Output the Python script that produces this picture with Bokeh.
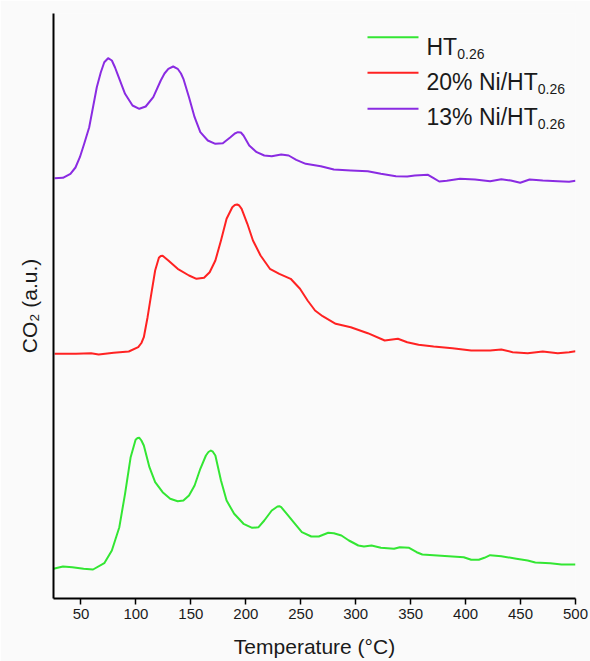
from bokeh.plotting import figure
from bokeh.models import Range1d, FixedTicker, Label, BoxAnnotation
from bokeh.embed import file_html
from bokeh.resources import INLINE

# ---- data ----
ht_T = [25, 33.6, 42.1, 52.4, 61, 71.2, 78.1, 84.9, 90.1, 95.2, 99.7, 101.5, 103.1, 105, 107.2,
        112.3, 117.5, 124.3, 131.2, 138, 143.2, 148.3, 153.4, 158.6, 163.7, 166, 168.2, 170,
        172.3, 177.4, 182.5, 189.4, 197.9, 205.8, 211.6, 216.8, 223.6, 228.8, 230.5, 232.2, 237.3,
        244.2, 251, 259.6, 266.4, 275, 280.1, 287, 293.8, 302.4, 307.5, 314.4, 322.9, 334.9, 340.1,
        348.6, 355.5, 360.6, 374.3, 388, 398.3, 405.1, 412, 417.1, 422.3, 432.5, 446.2, 456.5,
        463.4, 477.1, 487.3, 500]
ht_y = [29.7, 32, 31.3, 29.7, 29, 35.3, 48, 71.3, 104.7, 141.3, 158.7, 160.5, 160.7, 158, 153,
        131.3, 116.3, 106.3, 99.7, 97.3, 98, 103, 113, 129.7, 143, 146.5, 148, 146.8, 143, 118,
        98, 84.7, 74.7, 70.7, 71.3, 78, 88, 92, 92.3, 91.3, 84.7, 75.3, 66.3, 62, 62, 65.7, 65.3,
        63, 58, 53, 52, 53, 50.7, 49.7, 51.3, 50.7, 46.3, 44, 43, 42, 41.3, 38.7, 38.7, 40.7,
        43.3, 42.3, 39.7, 38, 36, 35.3, 34, 34]

ni20_T = [26, 45.5, 59.2, 66.1, 79.8, 93.5, 102.1, 105, 107.2, 110.6, 114, 117.5, 120.9, 122.6,
          124.3, 129.5, 138, 148.3, 155.1, 162, 167.1, 172.3, 177.4, 182.5, 187.7, 190, 192.1,
          194, 196.2, 201.4, 206.5, 213.4, 221.9, 230.5, 240.8, 249.3, 256.2, 263, 269.9, 281.8,
          295.5, 311, 326.4, 338.4, 346.9, 357.2, 370.9, 388, 405.1, 422.3, 432.5, 442.8, 456.5,
          470.2, 483.9, 494.2, 500]
ni20_y = [244.7, 244.7, 245.3, 244, 245.7, 247, 251.3, 255.5, 261.3, 281.3, 304.7, 328, 340.7,
          342.5, 342.7, 338, 329.7, 323, 319.7, 320.7, 326.3, 338, 358, 379.7, 391.3, 393.5, 394,
          393, 389.7, 374.7, 358, 343, 329.7, 324.7, 319.7, 309.7, 298, 288, 282.3, 274.7, 271.3,
          265.3, 258, 259.7, 256.3, 253.7, 252, 250.3, 248, 248, 249, 246.3, 245.3, 247, 245.3,
          246.3, 247.3]

ni13_T = [26, 33.6, 40.4, 45, 49, 53, 57.5, 64.4, 68, 71.2, 74.7, 78.1, 81, 83.2, 90.1, 96.9,
          103.1, 108.9, 115.8, 122.6, 126, 129.5, 133.9, 138, 141, 143.2, 148.3, 153.4, 158.6,
          165.4, 172.3, 179.1, 186, 190, 192.8, 195.5, 197.9, 203.1, 209.9, 216.8, 223.6, 232.2,
          239, 245.9, 254.5, 268.2, 280.1, 295.5, 311, 322.9, 336.6, 346.9, 353.8, 365.8, 370.9,
          376, 382.9, 394.9, 408.6, 422.3, 432.5, 441.1, 449.7, 458.2, 470.2, 483.9, 494.2, 500]
ni13_y = [420.3, 420.7, 424.7, 431, 441.3, 455, 471.3, 511.3, 526, 536.3, 540.3, 538, 531, 524.7,
          504.7, 493, 489.7, 492, 501.3, 518, 525, 529.7, 532, 529.7, 525, 519.7, 501.3, 481.3,
          466.3, 458, 454.7, 455.3, 461.3, 465, 466.3, 466, 463, 453, 446.3, 443, 442.3, 444, 443,
          438.7, 434.7, 432.3, 429, 428, 427.3, 424.7, 422.3, 422, 423, 423.7, 420.3, 417, 417.7,
          419.7, 419, 417.3, 419.3, 418, 415.7, 419, 418, 417.3, 416.7, 417.7]

x_ticks = [50, 100, 150, 200, 250, 300, 350, 400, 450, 500]
series_names = ["HT", "20% Ni/HT", "13% Ni/HT"]
series_sub = ["0.26", "0.26", "0.26"]

# ---- style ----
FONT = "Liberation Sans"
BG = "#fafafa"
TXT = "#1a1a1a"
colors = ["#33e633", "#ff2222", "#8a2be2"]

p = figure(width=590, height=661, output_backend="svg", toolbar_location=None,
           x_range=Range1d(25, 500), y_range=Range1d(0, 585),
           min_border_left=53, min_border_right=15, min_border_top=13, min_border_bottom=63)
p.background_fill_color = BG
p.border_fill_color = BG
p.outline_line_color = None
p.grid.visible = False

for T, y, c in [(ht_T, ht_y, colors[0]), (ni20_T, ni20_y, colors[1]), (ni13_T, ni13_y, colors[2])]:
    p.line(T, y, line_color=c, line_width=2, line_join="round")

xa = p.xaxis[0]
xa.ticker = FixedTicker(ticks=x_ticks)
xa.axis_line_width = 2
xa.axis_line_color = "black"
xa.major_tick_line_width = 1.5
xa.major_tick_line_color = "black"
xa.major_tick_out = 6
xa.major_tick_in = 0
xa.minor_tick_line_color = None
xa.major_label_text_font = FONT
xa.major_label_text_font_size = "15px"
xa.major_label_text_color = TXT
xa.major_label_standoff = 4
xa.axis_label = "Temperature (°C)"
xa.axis_label_text_font = FONT
xa.axis_label_text_font_size = "21px"
xa.axis_label_text_font_style = "normal"
xa.axis_label_text_color = TXT
xa.axis_label_standoff = 13

ya = p.yaxis[0]
ya.ticker = FixedTicker(ticks=[])
ya.axis_line_width = 2
ya.axis_line_color = "black"
ya.major_tick_line_color = None
ya.minor_tick_line_color = None
ya.major_label_text_font_size = "0px"
ya.axis_label = "CO\u2082 (a.u.)"
ya.axis_label_text_font = FONT
ya.axis_label_text_font_size = "21px"
ya.axis_label_text_font_style = "normal"
ya.axis_label_text_color = TXT
ya.axis_label_standoff = 13

# ---- legend (screen units relative to the plot frame) ----
line_y = [561.3, 525.7, 489.7]
text_y = [552, 516.3, 481.3]
for i in range(3):
    p.add_layout(BoxAnnotation(left=314, right=365, bottom=line_y[i] - 1, top=line_y[i] + 1,
                               left_units="screen", right_units="screen",
                               bottom_units="screen", top_units="screen",
                               fill_color=colors[i], fill_alpha=1, line_color=None))
    p.add_layout(Label(x=373, y=text_y[i], x_units="screen", y_units="screen", text=series_names[i],
                       text_font=FONT, text_font_size="23px", text_color=TXT,
                       text_align="left", text_baseline="alphabetic"))
    sub_x = 373 + (30.7 if i == 0 else 111.2)
    p.add_layout(Label(x=sub_x, y=text_y[i] - 7, x_units="screen", y_units="screen",
                       text=series_sub[i], text_font=FONT, text_font_size="14px", text_color=TXT,
                       text_align="left", text_baseline="alphabetic"))

open("out.html", "w").write(file_html(p, INLINE))
